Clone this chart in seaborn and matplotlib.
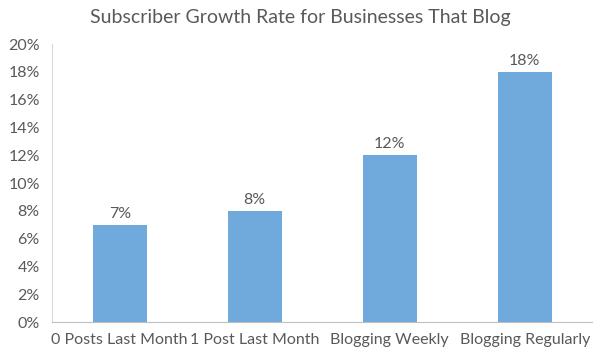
import numpy as np
import pandas as pd
import seaborn as sns
import matplotlib.pyplot as plt
from matplotlib.ticker import PercentFormatter

# data
categories = ["0 Posts Last Month", "1 Post Last Month", "Blogging Weekly", "Blogging Regularly"]
growth = [7, 8, 12, 18]

df = pd.DataFrame({"category": categories, "growth": growth})

sns.set_style("white")
plt.rcParams["font.family"] = ["Lato", "DejaVu Sans"]

text_col = "#595959"
bar_col = "#70a9dc"

fig = plt.figure(figsize=(6, 3.56), dpi=100)
ax = fig.add_axes([0.087, 0.0955, 0.9, 0.7805])

sns.barplot(data=df, x="category", y="growth", color=bar_col, width=0.4,
            saturation=1, linewidth=0, ax=ax)

# value labels on top of the bars
for i, v in enumerate(growth):
    ax.text(i, v + 0.3, f"{v}%", ha="center", va="bottom", fontsize=11.5, color=text_col)

ax.set_ylim(0, 20)
ax.set_yticks(np.arange(0, 21, 2))
ax.yaxis.set_major_formatter(PercentFormatter(decimals=0))
ax.set_xlim(-0.5, 3.5)
ax.set_xlabel("")
ax.set_ylabel("")
ax.tick_params(axis="both", length=0, labelsize=11.5, colors=text_col)
ax.tick_params(axis="y", pad=9)
ax.tick_params(axis="x", pad=8)

for s in ["top", "right"]:
    ax.spines[s].set_visible(False)
ax.spines["left"].set_color("#d9d9d9")
ax.spines["bottom"].set_color("#bfbfbf")

fig.suptitle("Subscriber Growth Rate for Businesses That Blog", y=0.975,
             fontsize=14, color=text_col)

fig.savefig("out.png", dpi=100)
